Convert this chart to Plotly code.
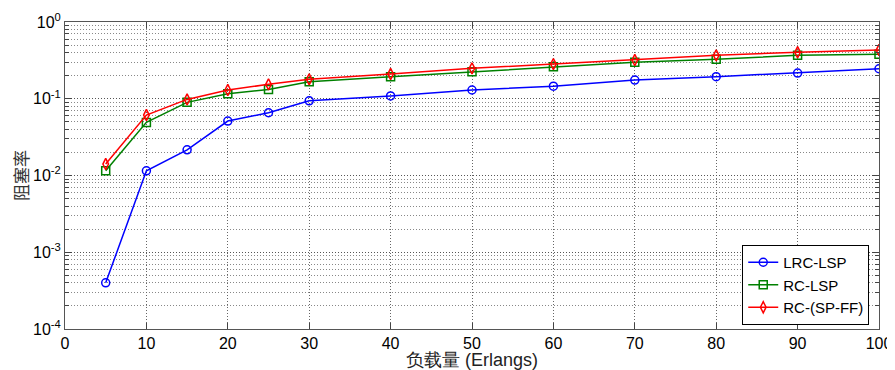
import plotly.graph_objects as go

load = [5, 10, 15, 20, 25, 30, 40, 50, 60, 70, 80, 90, 100]
lrc_lsp = [0.00040, 0.0115, 0.0216, 0.0512, 0.0657, 0.094, 0.109, 0.130, 0.146, 0.175, 0.194, 0.216, 0.246]
rc_lsp = [0.0115, 0.0492, 0.0897, 0.116, 0.132, 0.167, 0.194, 0.225, 0.261, 0.298, 0.326, 0.368, 0.379]
rc_spff = [0.0141, 0.0613, 0.098, 0.130, 0.154, 0.179, 0.210, 0.249, 0.283, 0.320, 0.368, 0.403, 0.431]

series_names = ["LRC-LSP", "RC-LSP", "RC-(SP-FF)"]
series_values = [lrc_lsp, rc_lsp, rc_spff]
colors = ["#0000ff", "#008000", "#ff0000"]
symbols = ["circle-open", "square-open", "diamond-tall-open"]

x_ticks = list(range(0, 101, 10))
y_tickvals = [1e-4, 1e-3, 1e-2, 1e-1, 1e0]
y_ticktext = ["10<sup>-4</sup>", "10<sup>-3</sup>", "10<sup>-2</sup>", "10<sup>-1</sup>", "10<sup>0</sup>"]

fig = go.Figure()
for name, vals, c, s in zip(series_names, series_values, colors, symbols):
    fig.add_trace(go.Scatter(
        x=load, y=vals, name=name, mode="lines+markers",
        line=dict(color=c, width=1.5),
        marker=dict(symbol=s, size=8, color=c, line=dict(color=c, width=1.5)),
    ))

font_family = "Liberation Sans, Arial, sans-serif"
grid_dash = "1px,2px"
# the page body has an 8px default margin, so the figure is sized to fit the window
fig.update_layout(
    width=887, height=362,
    margin=dict(l=57, r=16, t=14, b=41),
    paper_bgcolor="white", plot_bgcolor="white",
    font=dict(family=font_family, size=16, color="black"),
    showlegend=True,
    legend=dict(
        x=0.988, y=0.013, xanchor="right", yanchor="bottom",
        bordercolor="black", borderwidth=1, bgcolor="white",
        font=dict(size=15), itemwidth=30, tracegroupgap=0,
    ),
    xaxis=dict(
        range=[0, 100], tickvals=x_ticks, ticks="inside", ticklen=6,
        tickcolor="#444", showline=True, linecolor="#555", mirror="ticks",
        showgrid=True, gridcolor="#666", griddash=grid_dash, gridwidth=1,
        zeroline=False, automargin=False, ticklabeloverflow="allow",
        title=dict(text="负载量 (Erlangs)",
                   font=dict(size=18, color="#222"), standoff=1),
        tickfont=dict(size=16),
    ),
    yaxis=dict(
        type="log", range=[-4, 0], tickvals=y_tickvals, ticktext=y_ticktext,
        ticks="inside", ticklen=7, tickcolor="#444",
        showline=True, linecolor="#555", mirror="ticks",
        showgrid=True, gridcolor="#555", griddash=grid_dash, gridwidth=1,
        zeroline=False, automargin=False, ticklabeloverflow="allow",
        minor=dict(dtick="D1", ticks="inside", ticklen=4, tickcolor="#444",
                   showgrid=True, gridcolor="#888", griddash=grid_dash, gridwidth=1),
        title=dict(text="阻塞率", font=dict(size=17, color="#333",
                   family="Noto Sans CJK SC"), standoff=9),
        tickfont=dict(size=16),
    ),
)

fig.write_html("out.html")
